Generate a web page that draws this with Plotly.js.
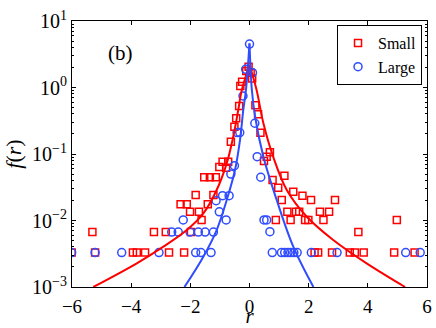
<!DOCTYPE html>
<html>
<head>
<meta charset="utf-8">
<script src="https://cdn.plot.ly/plotly-3.0.1.min.js"></script>
<style>
  html, body { margin: 0; padding: 0; background: #fff; }
  #plot { width: 436px; height: 328px; }
</style>
</head>
<body>
<div id="plot"></div>
<script>
// values

// "Small" (red squares)
const smallX = [-6.01, -5.31, -5.22, -3.94, -3.81, -3.53, -3.23, -2.83, -2.72, -2.33,
  -2.21, -2.12, -2.01, -1.98, -1.82, -1.71, -1.62, -1.53, -1.41, -1.34,
  -1.22, -1.14, -1.02, -0.91, -0.79, -0.72, -0.63, -0.51, -0.45, -0.35,
  -0.31, -0.25, -0.11, -0.03, 0.04, 0.09, 0.20, 0.29, 0.37, 0.49,
  0.58, 0.69, 0.78, 0.89, 0.97, 1.09, 1.18, 1.28, 1.39, 1.48,
  1.57, 1.68, 1.79, 1.88, 1.99, 2.08, 2.20, 2.32, 2.38, 2.50,
  2.69, 2.79, 2.89, 3.39, 3.56, 3.68, 3.86, 4.89, 4.98, 5.58];
const smallY = [0.0033, 0.0067, 0.0033, 0.0033, 0.0033, 0.0033, 0.0067, 0.0067, 0.0033, 0.0175,
  0.0033, 0.0175, 0.0135, 0.0067, 0.0241, 0.0135, 0.0102, 0.0447, 0.0175, 0.0447,
  0.0241, 0.0447, 0.064, 0.0766, 0.062, 0.0766, 0.153, 0.258, 0.344, 0.527,
  1.05, 1.22, 1.77, 2.06, 1.67, 1.36, 0.54, 0.395, 0.209, 0.0785,
  0.091, 0.106, 0.0406, 0.0102, 0.0311, 0.0203, 0.0472, 0.0135, 0.0102, 0.0271,
  0.0135, 0.0135, 0.0236, 0.0102, 0.0102, 0.0203, 0.0033, 0.0033, 0.0135, 0.0102,
  0.0135, 0.0033, 0.0203, 0.0033, 0.0033, 0.0067, 0.0033, 0.0033, 0.0102, 0.0033];

// "Large" (blue circles)
const largeX = [-6.01, -5.22, -4.32, -3.06, -2.63, -2.41, -2.24, -2.01, -1.82, -1.73,
  -1.64, -1.50, -1.30, -1.22, -1.13, -1.02, -0.91, -0.79, -0.69, -0.63,
  -0.51, -0.42, -0.33, -0.22, -0.13, 0.0, 0.10, 0.18, 0.26, 0.38,
  0.49, 0.58, 0.69, 0.77, 1.08, 1.19, 1.30, 1.39, 1.50, 1.61,
  2.09, 2.96, 5.28, 5.77];
const largeY = [0.0033, 0.0033, 0.0033, 0.0033, 0.0067, 0.0067, 0.0102, 0.0067, 0.0033, 0.0067,
  0.0033, 0.0067, 0.0033, 0.0067, 0.0199, 0.0135, 0.0236, 0.0102, 0.0236, 0.050,
  0.0667, 0.21, 0.21, 0.745, 1.88, 4.5, 1.67, 0.29, 0.091, 0.0447,
  0.0102, 0.0102, 0.0068, 0.0033, 0.0033, 0.0033, 0.0033, 0.0033, 0.0033, 0.0033,
  0.0033, 0.0033, 0.0033, 0.0033];

// fitted curves (peak is the cusp)
const smallFitX = [-5.28, -3.81, -2.91, -2.12, -1.56, -1.11, -0.77, -0.55, -0.38, -0.26, 0,
  0.24, 0.47, 0.80, 1.26, 1.93, 2.83, 3.96, 5.26];
const smallFitY = [0.0010, 0.00227, 0.00404, 0.00719, 0.0128, 0.0288, 0.0724, 0.182, 0.459, 0.916, 2.2,
  0.916, 0.29, 0.0912, 0.0288, 0.0115, 0.0051, 0.00227, 0.0010];
const largeFitX = [-2.20, -1.56, -1.11, -0.77, -0.49, -0.32, -0.21, -0.12, 0,
  0.08, 0.19, 0.47, 0.92, 1.48, 2.16];
const largeFitY = [0.0010, 0.00286, 0.00719, 0.0203, 0.0575, 0.163, 0.459, 0.916, 4.6,
  0.916, 0.363, 0.0912, 0.0203, 0.00404, 0.0010];

const red = '#ff0000';
const blue = '#2f4cff';
const serif = 'Liberation Serif, Times New Roman, serif';

function halves(xs, ys) {
  // split at the peak so the cusp stays sharp
  let k = ys.indexOf(Math.max(...ys));
  return [[xs.slice(0, k + 1), ys.slice(0, k + 1)], [xs.slice(k), ys.slice(k)]];
}

let traces = [];
traces.push({
  x: smallX, y: smallY, name: 'Small', type: 'scatter', mode: 'markers',
  marker: {symbol: 'square-open', size: 7, color: red, line: {width: 1.5, color: red}}
});
traces.push({
  x: largeX, y: largeY, name: 'Large', type: 'scatter', mode: 'markers',
  marker: {symbol: 'circle-open', size: 8, color: blue, line: {width: 1.5, color: blue}}
});
for (let [hx, hy] of halves(smallFitX, smallFitY)) {
  traces.push({x: hx, y: hy, type: 'scatter', mode: 'lines', showlegend: false,
    line: {color: red, width: 2, shape: 'spline', smoothing: 1}});
}
for (let [hx, hy] of halves(largeFitX, largeFitY)) {
  traces.push({x: hx, y: hy, type: 'scatter', mode: 'lines', showlegend: false,
    line: {color: blue, width: 2, shape: 'spline', smoothing: 1}});
}

let minorVals = [];
for (let e = -3; e < 1; e++) {
  for (let m = 2; m <= 9; m++) minorVals.push(m * Math.pow(10, e));
}

let layout = {
  width: 436, height: 328,
  margin: {l: 72, r: 9, t: 21, b: 41},
  paper_bgcolor: '#fff', plot_bgcolor: '#fff',
  font: {family: serif, size: 20, color: '#000'},
  showlegend: true,
  legend: {
    x: 0.986, y: 0.985, xanchor: 'right', yanchor: 'top',
    bgcolor: '#fff', bordercolor: '#000', borderwidth: 1,
    font: {family: serif, size: 16, color: '#000'},
    tracegroupgap: 0, itemwidth: 30
  },
  xaxis: {
    range: [-6, 6], tickvals: [-6, -4, -2, 0, 2, 4, 6],
    ticks: 'inside', ticklen: 4, tickcolor: '#000',
    showline: true, linecolor: '#000', linewidth: 1, mirror: 'ticks',
    showgrid: false, zeroline: false,
    tickfont: {family: serif, size: 19}, ticklabelstandoff: 2,
    title: {text: '<i>r</i>', font: {family: serif, size: 21}}
  },
  yaxis: {
    type: 'log', range: [-3, 1],
    tickvals: [0.001, 0.01, 0.1, 1, 10],
    ticktext: ['10<sup>\u22123</sup>', '10<sup>\u22122</sup>', '10<sup>\u22121</sup>', '10<sup>0</sup>', '10<sup>1</sup>'],
    ticks: 'inside', ticklen: 4, tickcolor: '#000',
    minor: {tickvals: minorVals, ticks: 'inside', ticklen: 2, tickcolor: '#000', showgrid: false},
    showline: true, linecolor: '#000', linewidth: 1, mirror: 'ticks',
    showgrid: false, zeroline: false,
    tickfont: {family: serif, size: 20},
    title: {text: '<i>f</i>(<i>r</i>)', font: {family: serif, size: 22}, standoff: 4}
  },
  annotations: [{
    text: '(b)', xref: 'paper', yref: 'paper', x: 0.095, y: 0.88,
    xanchor: 'left', yanchor: 'middle', showarrow: false,
    font: {family: serif, size: 21, color: '#000'}
  }]
};

Plotly.newPlot('plot', traces, layout, {displayModeBar: false, staticPlot: true});
</script>
</body>
</html>
